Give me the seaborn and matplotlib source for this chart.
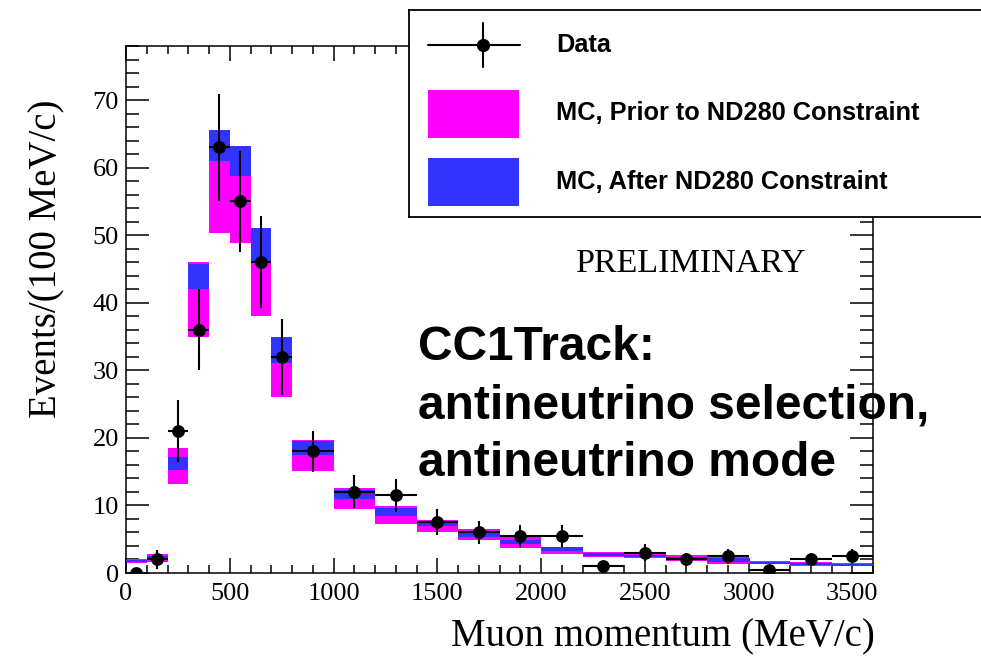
import numpy as np
import pandas as pd
import matplotlib
matplotlib.use("Agg")
import matplotlib.pyplot as plt
from matplotlib.patches import Rectangle
from matplotlib.ticker import MultipleLocator
import seaborn as sns

# Binning in muon momentum (MeV/c)
bin_edges = [0, 100, 200, 300, 400, 500, 600, 700, 800, 1000, 1200, 1400, 1600,
             1800, 2000, 2200, 2400, 2600, 2800, 3000, 3200, 3400, 3600]

# Observed events per 100 MeV/c
data_counts = [0, 2, 21, 36, 63, 55, 46, 32, 18, 12, 11.5, 7.5, 6, 5.5, 5.5,
               1, 3, 2, 2.5, 0.5, 2, 2.5]

# MC prediction bands (events per 100 MeV/c)
prior_low = [1.5, 1.6, 13.1, 35.0, 50.3, 48.9, 38.1, 26.0, 15.1, 9.5, 7.2, 6.1,
             4.9, 3.7, 2.8, 2.3, 2.2, 1.8, 1.3, 1.3, 1.1, 1.0]
prior_high = [2.1, 2.8, 18.5, 46.1, 61.5, 59.0, 46.5, 31.5, 19.7, 12.6, 9.9, 7.9,
              6.5, 5.4, 3.9, 3.1, 2.9, 2.7, 2.3, 1.8, 1.6, 1.5]
after_low = [1.6, 2.0, 15.3, 42.1, 61.0, 58.7, 46.1, 31.1, 17.5, 11.0, 8.4, 7.0,
             5.4, 4.3, 3.3, 2.5, 2.4, 2.0, 1.6, 1.4, 1.2, 1.1]
after_high = [1.9, 2.5, 17.1, 45.8, 65.5, 63.2, 51.0, 35.0, 19.5, 12.3, 9.6, 7.6,
              6.1, 4.9, 3.8, 3.0, 2.7, 2.4, 2.2, 1.6, 1.5, 1.4]

x_ticks = [0, 500, 1000, 1500, 2000, 2500, 3000, 3500]
y_ticks = [0, 10, 20, 30, 40, 50, 60, 70]

legend_labels = ["Data", "MC, Prior to ND280 Constraint", "MC, After ND280 Constraint"]

MAGENTA = "#FF00FF"
BLUE = "#3333FF"
SERIF = "Liberation Serif"
SANS = "Liberation Sans"

sns.set_theme(style="ticks")
plt.rcParams["font.family"] = [SERIF, "DejaVu Serif"]
plt.rcParams["text.color"] = "black"
plt.rcParams["axes.labelcolor"] = "black"
plt.rcParams["xtick.color"] = "black"
plt.rcParams["ytick.color"] = "black"
plt.rcParams["axes.edgecolor"] = "black"

edges = np.array(bin_edges, dtype=float)
lefts = edges[:-1]
widths = np.diff(edges)
centers = lefts + widths / 2
counts = np.array(data_counts, dtype=float)
scale = widths / 100.0
raw = counts * scale
yerr = np.sqrt(raw) / scale

df = pd.DataFrame({"p": centers, "n": counts, "half": widths / 2, "err": yerr})

W, H = 981, 656
fig = plt.figure(figsize=(W / 100, H / 100), dpi=100)
fig.patch.set_facecolor("white")

L, R, T, B = 126, 873, 46, 573
ax = fig.add_axes([L / W, (H - B) / H, (R - L) / W, (B - T) / H])
ax.set_facecolor("white")

# MC bands: prior first, constrained drawn on top
ax.bar(lefts, np.array(prior_high) - np.array(prior_low), bottom=prior_low,
       width=widths, align="edge", color=MAGENTA, linewidth=0, zorder=2)
ax.bar(lefts, np.array(after_high) - np.array(after_low), bottom=after_low,
       width=widths, align="edge", color=BLUE, linewidth=0, zorder=3)

# Data points with Poisson errors and bin-width bars
nz = df[df["n"] > 0]
ax.errorbar(nz["p"], nz["n"], xerr=nz["half"], yerr=nz["err"], fmt="none",
            ecolor="black", elinewidth=1.5, capsize=0, zorder=4)
sns.scatterplot(data=df, x="p", y="n", ax=ax, color="black", s=85,
                edgecolor="black", linewidth=0, zorder=5, legend=False)

ax.set_xlim(0, 3600)
ax.set_ylim(0, 78)
ax.set_xticks(x_ticks)
ax.set_yticks(y_ticks)
ax.xaxis.set_minor_locator(MultipleLocator(100))
ax.yaxis.set_minor_locator(MultipleLocator(2))
ax.tick_params(axis="both", which="both", direction="in", top=True, right=True,
               colors="black", labelsize=19, width=1.1)
ax.tick_params(axis="y", which="major", length=16.5, pad=5)
ax.tick_params(axis="y", which="minor", length=9.4)
ax.tick_params(axis="x", which="major", length=11, pad=7)
ax.tick_params(axis="x", which="minor", length=5.8)
for lab in ax.get_xticklabels() + ax.get_yticklabels():
    lab.set_fontfamily(SERIF)
    lab.set_color("black")
for sp in ax.spines.values():
    sp.set_linewidth(1.1)
    sp.set_color("black")
ax.set_xlabel("")
ax.set_ylabel("")

# Axis titles, aligned to the axis ends
fig.text(875 / W, 1 - 646 / H, "Muon momentum (MeV/c)", ha="right", va="baseline",
         fontsize=28, family=SERIF, color="black")
fig.text(56 / W, 1 - 100 / H, "Events/(100 MeV/c)", ha="right", va="baseline",
         rotation=90, rotation_mode="anchor", fontsize=28, family=SERIF,
         color="black")

# Annotations
fig.text(691 / W, 1 - 272 / H, "PRELIMINARY", ha="center", va="baseline",
         fontsize=24.5, family=SERIF, color="black")
for txt, yb in [("CC1Track:", 360), ("antineutrino selection,", 418),
                ("antineutrino mode", 476)]:
    fig.text(418 / W, 1 - yb / H, txt, ha="left", va="baseline", fontsize=34.5,
             family=SANS, fontweight="bold", color="black")

# Legend box
lx0, ly0, lx1, ly1 = 409, 10, 1020, 217
lax = fig.add_axes([lx0 / W, (H - ly1) / H, (lx1 - lx0) / W, (ly1 - ly0) / H])
lax.set_xlim(lx0, lx1)
lax.set_ylim(ly1, ly0)
lax.set_xticks([])
lax.set_yticks([])
lax.set_facecolor("white")
for sp in lax.spines.values():
    sp.set_linewidth(1.3)
    sp.set_color("black")
lax.plot([428, 520], [45, 45], color="black", lw=1.5)
lax.plot([483, 483], [23, 67], color="black", lw=1.5)
lax.plot([483], [45], "o", color="black", ms=8.5)
lax.add_patch(Rectangle((428, 90), 91, 48, color=MAGENTA, lw=0))
lax.add_patch(Rectangle((428, 158), 91, 48, color=BLUE, lw=0))
for txt, yc in zip(legend_labels, [45, 113, 182]):
    lax.text(556, yc, txt, ha="left", va="center", fontsize=18.3,
             family=SANS, fontweight="bold", color="black")

fig.savefig("out.png", dpi=100)
